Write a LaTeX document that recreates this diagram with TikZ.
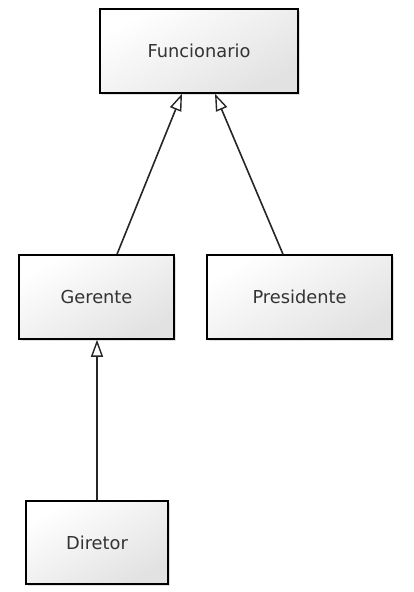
\documentclass[tikz,border=0pt]{standalone}
\usepackage{fontspec}
\setmainfont{DejaVu Sans}
\usetikzlibrary{arrows.meta,shadows}
\tikzset{
  classbox/.style = {draw = black, line width = 1.5pt, inner sep = 0pt,
    shading = axis, top color = white, bottom color = boxgrey, shading angle = 30,
    drop shadow = {opacity = 0.25, shadow xshift = 1.5pt, shadow yshift = -1.5pt},
    text = textgrey, font = \fontsize{17.8}{21}\selectfont},
  inherit/.style = {draw = black!85, line width = 1.6pt,
    -{Triangle[open, length = 17pt, width = 12pt, line width = 1.4pt]}}
}
\begin{document}
\begin{tikzpicture}[x = 1pt, y = -1pt]
\definecolor{boxgrey}{HTML}{E2E2E2}
\definecolor{textgrey}{HTML}{333333}
\useasboundingbox (0, 0) rectangle (414, 592);
\node[classbox, minimum width = 198pt, minimum height = 84pt] (func) at (199, 51) {Funcionario};
\node[classbox, minimum width = 155pt, minimum height = 84pt] (ger) at (96.5, 297) {Gerente};
\node[classbox, minimum width = 185pt, minimum height = 84pt] (pres) at (299.5, 297) {Presidente};
\node[classbox, minimum width = 142pt, minimum height = 83pt] (dir) at (97, 542.5) {Diretor};
\draw[inherit] ([xshift = 20.5pt]ger.north) -- ([xshift = -17pt]func.south);
\draw[inherit] ([xshift = -16.5pt]pres.north) -- ([xshift = 16pt]func.south);
\draw[inherit] (dir.north) -- ([xshift = 0.5pt]ger.south);
\end{tikzpicture}
\end{document}
